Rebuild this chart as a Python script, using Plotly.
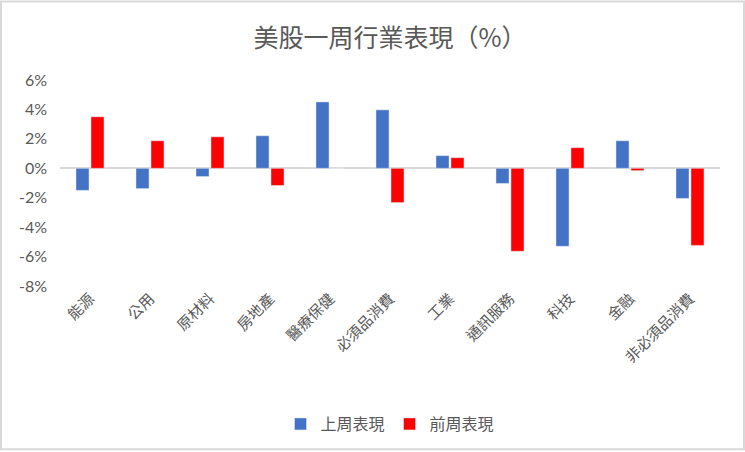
import plotly.graph_objects as go

categories = ["能源", "公用", "原材料", "房地產", "醫療保健", "必須品消費", "工業",
              "通訊服務", "科技", "金融", "非必須品消費"]
last_week = [-1.5, -1.38, -0.56, 2.21, 4.51, 3.97, 0.86, -1.03, -5.3, 1.87, -2.05]
prev_week = [3.5, 1.87, 2.14, -1.17, 0.0, -2.33, 0.72, -5.64, 1.4, -0.16, -5.24]
y_ticks = [6, 4, 2, 0, -2, -4, -6, -8]
y_tick_labels = [f"{v}%" for v in y_ticks]

W, H = 745, 452
ML, MR, MT, MB = 60, 25, 80, 165
cjk = "Noto Sans CJK TC"
gray = "#595959"

fig = go.Figure()
fig.add_trace(go.Bar(name="上周表現", x=categories, y=last_week, marker_color="#4472C4"))
fig.add_trace(go.Bar(name="前周表現", x=categories, y=prev_week, marker_color="#FF0000"))

pw = W - ML - MR
ph = H - MT - MB
fig.add_shape(type="rect", xref="paper", yref="paper",
              x0=-(ML - 1) / pw, x1=1 + (MR - 1) / pw,
              y0=-(MB - 1) / ph, y1=1 + (MT - 1) / ph,
              line=dict(color="#d9d9d9", width=2), layer="below")

fig.update_layout(
    width=W, height=H,
    margin=dict(l=ML, r=MR, t=MT, b=MB),
    paper_bgcolor="white", plot_bgcolor="white",
    barmode="group", bargap=0.5, bargroupgap=0.13,
    title=dict(text="美股一周行業表現（%）", x=0.5, xref="paper", xanchor="center",
               y=1 - 38 / H, yanchor="middle",
               font=dict(family=cjk, size=25, color=gray)),
    legend=dict(orientation="h", x=0.5, xanchor="center", xref="paper",
                y=-(424 - MT - ph) / ph, yanchor="middle", itemwidth=30,
                font=dict(family=cjk, size=16, color=gray), traceorder="normal"),
    xaxis=dict(tickangle=-45, tickfont=dict(family=cjk, size=15, color=gray),
               showgrid=False, showline=False, ticks=""),
    yaxis=dict(range=[-8, 6], tickvals=y_ticks, ticktext=y_tick_labels,
               tickfont=dict(family="Lato", size=16, color=gray),
               showgrid=False, zeroline=True, zerolinecolor="#d9d9d9", zerolinewidth=2,
               ticklabelstandoff=12),
)

fig.write_html("out.html", config={"displayModeBar": False},
               post_script="document.body.style.margin='0';document.body.style.overflow='hidden';")
